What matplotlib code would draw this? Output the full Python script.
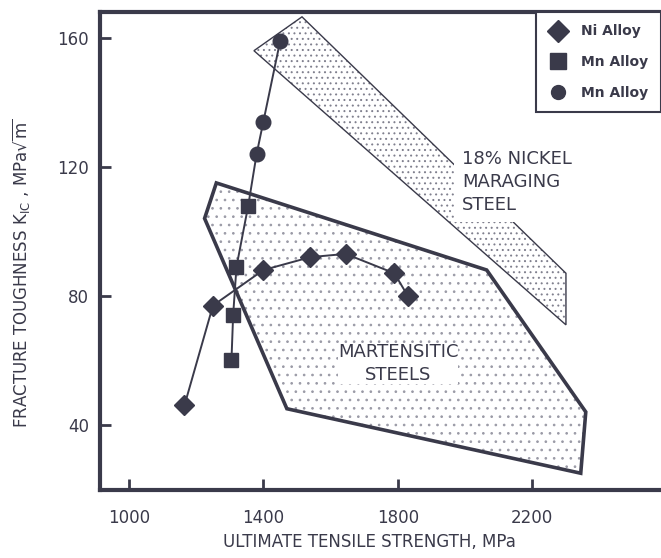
import matplotlib
matplotlib.use('Agg')
import matplotlib.pyplot as plt
from matplotlib.patches import Polygon
from matplotlib.lines import Line2D

# 数据
ni_x = [1165, 1250, 1400, 1540, 1645, 1790, 1830]
ni_y = [46, 77, 88, 92, 93, 87, 80]
mn_sq_x = [1305, 1310, 1320, 1355]
mn_sq_y = [60, 74, 89, 108]
mn_ci_x = [1380, 1400, 1450]
mn_ci_y = [124, 134, 159]

# 区域边界
mart_x = [1260, 1225, 1470, 2345, 2360, 2065]
mart_y = [115, 104, 45, 25, 44, 88]
mar_x = [1372, 1515, 2301, 2301]
mar_y = [156, 166.5, 87, 71]

x_ticks = [1000, 1400, 1800, 2200]
y_ticks = [40, 80, 120, 160]

ink = '#3a3a4a'
plt.rcParams['hatch.linewidth'] = 0.7

fig = plt.figure(figsize=(6.61, 5.58), dpi=100)
ax = fig.add_axes([100 / 661, 68 / 558, 561 / 661, 478 / 558])
ax.set_xlim(913.6, 2584)
ax.set_ylim(19.8, 168)

# 马氏体钢区域
mart_pts = list(zip(mart_x, mart_y))
ax.add_patch(Polygon(mart_pts, closed=True, facecolor='none', edgecolor='#9a9aa6',
                     hatch='..', linewidth=0, zorder=1))
ax.add_patch(Polygon(mart_pts, closed=True, facecolor='none', edgecolor=ink,
                     linewidth=2.6, zorder=2))

# 18% 镍马氏体时效钢区域
mar_pts = list(zip(mar_x, mar_y))
ax.add_patch(Polygon(mar_pts, closed=True, facecolor='none', edgecolor='#80808e',
                     hatch='...', linewidth=0, zorder=1))
ax.add_patch(Polygon(mar_pts, closed=True, facecolor='none', edgecolor=ink,
                     linewidth=1.0, zorder=2))

# 曲线和数据点
ax.plot(ni_x, ni_y, '-', color=ink, linewidth=1.4, zorder=3)
ax.plot(mn_sq_x + mn_ci_x, mn_sq_y + mn_ci_y, '-', color=ink, linewidth=1.4, zorder=3)
ax.plot(ni_x, ni_y, 'D', color=ink, markersize=10, linestyle='none', zorder=4)
ax.plot(mn_sq_x, mn_sq_y, 's', color=ink, markersize=10.5, linestyle='none', zorder=4)
ax.plot(mn_ci_x, mn_ci_y, 'o', color=ink, markersize=10.5, linestyle='none', zorder=4)

# 文字标注
ax.text(1801, 59, 'MARTENSITIC\nSTEELS', ha='center', va='center', fontsize=13,
        color=ink, linespacing=1.3, zorder=5,
        bbox=dict(facecolor='white', edgecolor='none', pad=0))
ax.text(1992, 115.3, '18% NICKEL\nMARAGING\nSTEEL', ha='left', va='center', fontsize=13,
        color=ink, linespacing=1.35, zorder=5,
        bbox=dict(facecolor='white', edgecolor='none', pad=6))

# 图例
handles = [
    Line2D([], [], marker='D', color=ink, linestyle='none', markersize=11),
    Line2D([], [], marker='s', color=ink, linestyle='none', markersize=11),
    Line2D([], [], marker='o', color=ink, linestyle='none', markersize=10),
]
leg = ax.legend(handles, ['Ni Alloy', 'Mn Alloy', 'Mn Alloy'], loc='upper right',
                bbox_to_anchor=(1.0, 1.0), borderaxespad=0, fancybox=False,
                prop={'weight': 'bold', 'size': 10}, labelspacing=1.2,
                handlelength=1.4, handletextpad=1.0, borderpad=0.9, framealpha=1)
leg.get_frame().set_edgecolor(ink)
leg.get_frame().set_linewidth(1.5)
for t in leg.get_texts():
    t.set_color(ink)
leg.set_zorder(6)

# 坐标轴
ax.set_xticks(x_ticks)
ax.set_yticks(y_ticks)
ax.tick_params(direction='in', length=8, width=2, color=ink, labelcolor=ink,
               labelsize=12)
ax.tick_params(axis='x', pad=14)
ax.tick_params(axis='y', pad=8)
for side in ['left', 'bottom', 'top']:
    ax.spines[side].set_linewidth(3)
    ax.spines[side].set_color(ink)
ax.spines['right'].set_visible(False)

ax.set_xlabel('ULTIMATE TENSILE STRENGTH, MPa', fontsize=12, color=ink)
ax.set_ylabel(r'FRACTURE TOUGHNESS K$_{\mathregular{IC}}$ , MPa$\sqrt{\mathregular{m}}$',
              fontsize=12, color=ink)
ax.xaxis.set_label_coords(0.481, -0.09)
ax.yaxis.set_label_coords(-0.121, 0.454)

fig.savefig('out.png', dpi=100)
